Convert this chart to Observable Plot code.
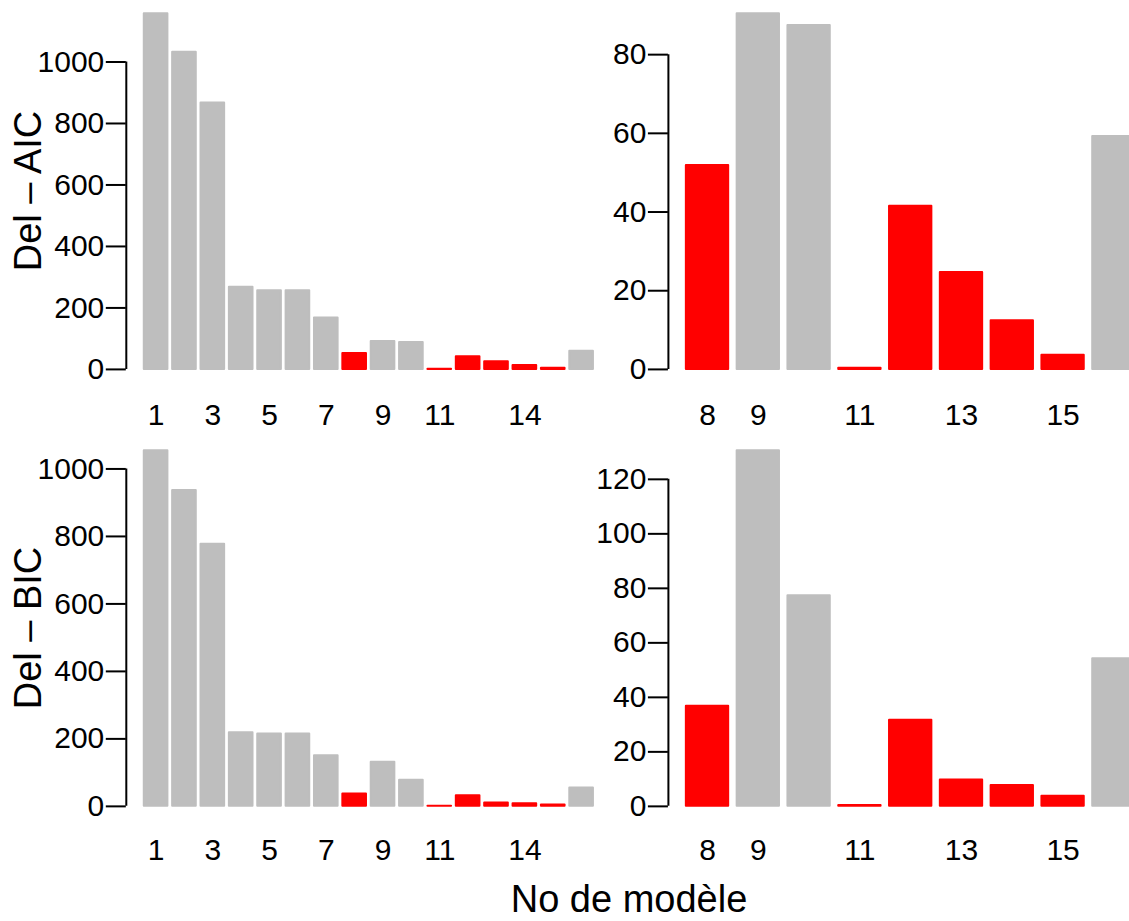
<!DOCTYPE html>
<html>
<head>
<meta charset="utf-8">
<script src="https://cdn.jsdelivr.net/npm/d3@7"></script>
<script src="https://cdn.jsdelivr.net/npm/@observablehq/plot@0.6"></script>
<style>
  body { margin: 0; background: #fff; }
  #fig { position: relative; width: 1129px; height: 921px; overflow: hidden; background: #fff;
         font-family: "Liberation Sans", Arial, sans-serif; color: #000; }
  #fig svg { position: absolute; background: transparent; overflow: visible; }
  .title { position: absolute; white-space: nowrap; color: #000; }
</style>
</head>
<body>
<div id="fig"></div>
<script>
// Model numbers and the two information-criterion differences per model
const models = d3.range(1, 17);
const delAIC = [1157, 1032, 867, 267, 256, 256, 167, 51.8, 90.4, 87.4, 0.3, 41.5, 24.6, 12.4, 3.6, 59.2];
const delBIC = [1054, 936, 777, 218, 214.5, 214.5, 150, 36.7, 130.5, 77.3, 0.3, 31.6, 9.7, 7.7, 3.7, 54.2];

// Models highlighted in red
const retainedModels = [8, 11, 12, 13, 14, 15];

// Models shown in the enlarged right-hand panels
const zoomModels = [8, 9, 10, 11, 12, 13, 14, 15, 16];

// Bar names that are printed under each panel
const allTickLabels = ["1", "3", "5", "7", "9", "11", "14"];
const zoomTickLabels = ["8", "9", "11", "13", "15"];

// Value-axis ticks
const aicTicks = [0, 200, 400, 600, 800, 1000];
const aicZoomTicks = [0, 20, 40, 60, 80];
const bicTicks = [0, 200, 400, 600, 800, 1000];
const bicZoomTicks = [0, 20, 40, 60, 80, 100, 120];

const yTitles = ["Del – AIC", "Del – BIC"];
const xTitle = "No de modèle";

const RED = "#ff0000";
const GREY = "#bebebe";
const FONT = "Liberation Sans, Arial, sans-serif";
const TICK_FONT = 30;

const fig = document.getElementById("fig");

// A base-graphics style bar chart: bars of width 1 separated by 0.2,
// x range padded by 4 %, y range from 0 to the tallest bar padded by 4 %.
function barPanel({values, shown, tickLabels, yTicks, left, top, width, height, margin, labelPad}) {
  const space = 0.2;
  const rows = shown.map((m, i) => ({
    model: m,
    value: values[m - 1],
    left: space + i * (1 + space)
  }));
  const xLo = rows[0].left;
  const xHi = rows[rows.length - 1].left + 1;
  const xPad = 0.04 * (xHi - xLo);
  const yMax = d3.max(rows, d => d.value);
  const labelAt = new Map(tickLabels.map(l => {
    const r = rows.find(d => String(d.model) === l);
    return [r.left + 0.5, l];
  }));

  const svg = Plot.plot({
    width, height,
    marginLeft: margin.left, marginRight: margin.right,
    marginTop: margin.top, marginBottom: margin.bottom,
    x: {domain: [xLo - xPad, xHi + xPad]},
    y: {domain: [-0.04 * yMax, 1.04 * yMax]},
    color: {type: "identity"},
    style: {background: "transparent", fontFamily: FONT, fontSize: TICK_FONT + "px", color: "#000"},
    marks: [
      Plot.rectY(rows, {
        x1: d => d.left,
        x2: d => d.left + 1,
        y1: 0,
        y2: "value",
        fill: d => retainedModels.includes(d.model) ? RED : GREY,
        stroke: d => retainedModels.includes(d.model) ? RED : GREY,
        strokeWidth: 2,
        strokeLinejoin: "round"
      }),
      Plot.ruleX([xLo - xPad], {
        y1: yTicks[0], y2: yTicks[yTicks.length - 1],
        stroke: "#000", strokeWidth: 2
      }),
      Plot.axisY(yTicks, {
        anchor: "left", tickSize: 20, tickPadding: 2, strokeWidth: 2,
        fontSize: TICK_FONT, fontFamily: FONT, label: null,
        tickFormat: d => String(d)
      }),
      Plot.axisX([...labelAt.keys()], {
        anchor: "bottom", tickSize: 0, tickPadding: labelPad,
        fontSize: TICK_FONT, fontFamily: FONT, label: null,
        tickFormat: d => labelAt.get(d)
      })
    ]
  });
  svg.style.left = left + "px";
  svg.style.top = top + "px";
  fig.appendChild(svg);
}

const leftBox = {left: 0, width: 612, marginLeft: 125.8, marginRight: 1.1};
const rightBox = {left: 590, width: 562.5, marginLeft: 77.9, marginRight: 0};
const topRow = {top: -0.85, height: 434.15, marginTop: 0, marginBottom: 50, labelPad: 20};
const bottomRow = {top: 425.8, height: 449.1, marginTop: 10, marginBottom: 55, labelPad: 18};

const panels = [
  {values: delAIC, shown: models, tickLabels: allTickLabels, yTicks: aicTicks, col: leftBox, row: topRow},
  {values: delAIC, shown: zoomModels, tickLabels: zoomTickLabels, yTicks: aicZoomTicks, col: rightBox, row: topRow},
  {values: delBIC, shown: models, tickLabels: allTickLabels, yTicks: bicTicks, col: leftBox, row: bottomRow},
  {values: delBIC, shown: zoomModels, tickLabels: zoomTickLabels, yTicks: bicZoomTicks, col: rightBox, row: bottomRow}
];

for (const p of panels) {
  barPanel({
    values: p.values, shown: p.shown, tickLabels: p.tickLabels, yTicks: p.yTicks,
    left: p.col.left, top: p.row.top, width: p.col.width, height: p.row.height,
    margin: {left: p.col.marginLeft, right: p.col.marginRight, top: p.row.marginTop, bottom: p.row.marginBottom},
    labelPad: p.row.labelPad
  });
}

// Row titles (rotated) and the shared x title
function addTitle(text, css) {
  const el = document.createElement("div");
  el.className = "title";
  el.textContent = text;
  Object.assign(el.style, css);
  fig.appendChild(el);
}
const rowCentres = [
  topRow.top + topRow.marginTop + (topRow.height - topRow.marginTop - topRow.marginBottom) / 2,
  bottomRow.top + bottomRow.marginTop + (bottomRow.height - bottomRow.marginTop - bottomRow.marginBottom) / 2
];
yTitles.forEach((t, i) => addTitle(t, {
  left: "27.5px", top: rowCentres[i] + "px", fontSize: "38px", lineHeight: "1",
  transform: "translate(-50%, -50%) rotate(-90deg)"
}));
addTitle(xTitle, {left: "629px", top: "884px", fontSize: "38px", lineHeight: "0.8", transform: "translateX(-50%)"});
</script>
</body>
</html>
